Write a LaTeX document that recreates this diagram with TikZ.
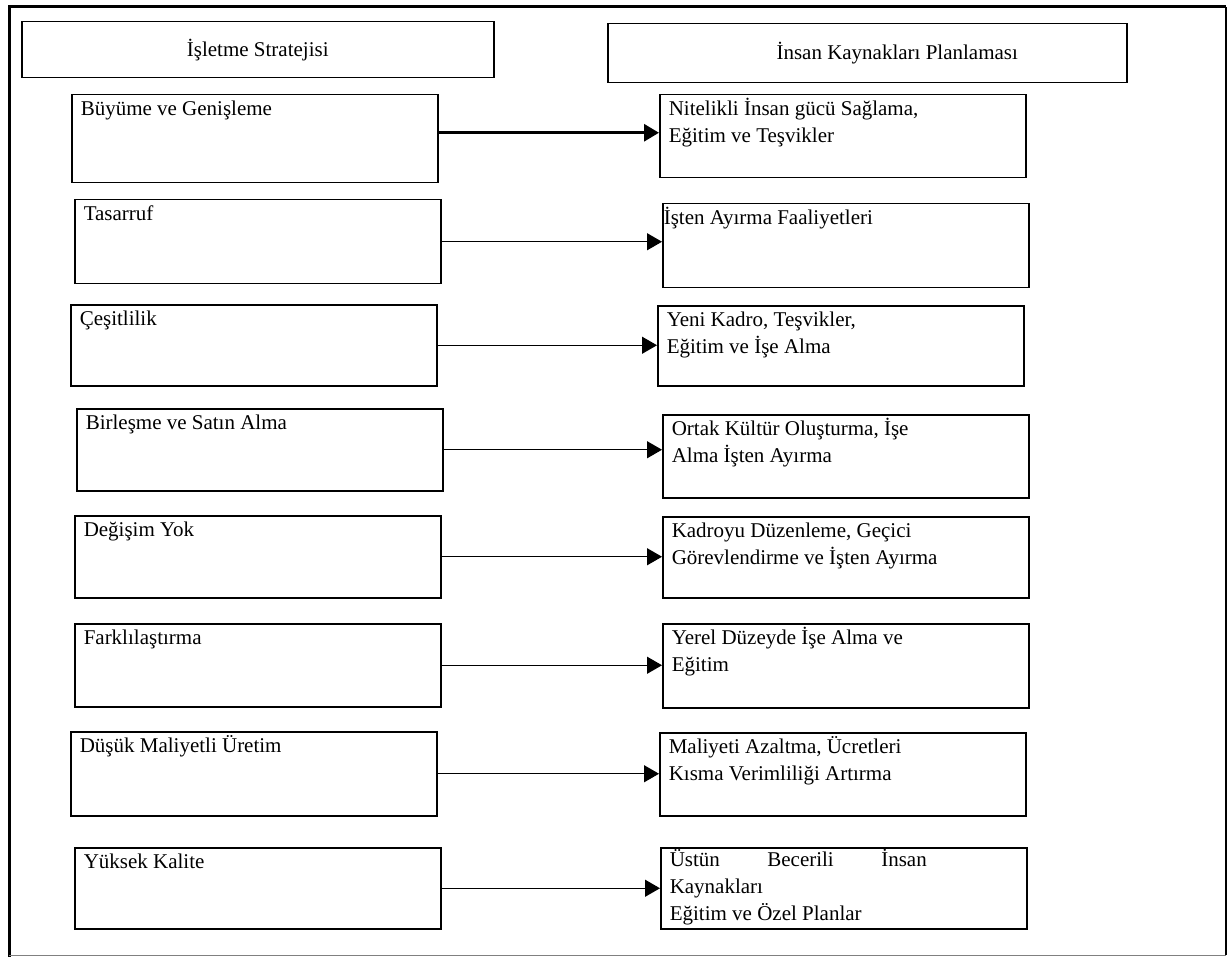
\documentclass[tikz,border=0pt]{standalone}
\usepackage{fontspec}
\setmainfont{Liberation Serif}
\usepackage{tikz}
\usetikzlibrary{arrows.meta}

\newcommand{\cellfont}{\fontsize{10.5}{13.5}\selectfont}
\newcommand{\celltext}[2][39.5pt]{\parbox[b][#1][t]{174pt}{\strut #2}}

\begin{document}
\begin{tikzpicture}[
    x=0.5pt, y=-0.5pt,
    hdr/.style={
        rectangle, draw, line width=0.75pt,
        anchor=north west, inner sep=0pt,
        align=center, font=\cellfont,
    },
    cell/.style={
        rectangle, draw, line width=0.75pt,
        anchor=north west, inner xsep=4.5pt, inner ysep=1pt,
        font=\cellfont,
    },
    arr/.style={-{Triangle[length=7.5pt,width=8.5pt]}, line width=0.6pt},
]
\useasboundingbox (0,0) rectangle (1231,957);

% Frame
\draw[line width=1.5pt] (9,957) -- (9,7) -- (1226,7);
\draw[line width=1pt] (1226,7) -- (1226,955);
\draw[gray, line width=0.5pt] (9,955) -- (1226,955);

% Headers
\node[hdr, minimum width=236pt, minimum height=28pt] (hs) at (21,21) {İşletme Stratejisi};
\node[hdr, minimum width=259.5pt, minimum height=29.5pt] (hk) at (607,23) {\hspace*{30pt}İnsan Kaynakları Planlaması};

% Strategies (left)
\node[cell] (s1) at (71,94) {\celltext[42pt]{Büyüme ve Genişleme}};
\node[cell] (s2) at (74,199) {\celltext[40pt]{Tasarruf}};
\node[cell] (s3) at (70,304) {\celltext[38.5pt]{Çeşitlilik}};
\node[cell] (s4) at (76,408) {\celltext[39pt]{Birleşme ve Satın Alma}};
\node[cell] (s5) at (74,515) {\celltext[39pt]{Değişim Yok}};
\node[cell] (s6) at (74,623) {\celltext[39.5pt]{Farklılaştırma}};
\node[cell] (s7) at (70,731) {\celltext[40pt]{Düşük Maliyetli Üretim}};
\node[cell] (s8) at (74,847) {\celltext[38.5pt]{Yüksek Kalite}};

% Planning (right)
\node[cell] (k1) at (659,94) {\celltext{Nitelikli İnsan gücü Sağlama,\\Eğitim ve Teşvikler}};
\node[cell] (k2) at (662,203) {\celltext[40pt]{\hspace*{-4pt}İşten Ayırma Faaliyetleri}};
\node[cell] (k3) at (657,305) {\celltext[38pt]{Yeni Kadro, Teşvikler,\\Eğitim ve İşe Alma}};
\node[cell] (k4) at (662,414) {\celltext{Ortak Kültür Oluşturma, İşe\\Alma İşten Ayırma}};
\node[cell] (k5) at (662,516) {\celltext[38.5pt]{Kadroyu Düzenleme, Geçici\\Görevlendirme ve İşten Ayırma}};
\node[cell] (k6) at (662,623) {\celltext[40pt]{Yerel Düzeyde İşe Alma ve\\Eğitim}};
\node[cell] (k7) at (659,732) {\celltext{Maliyeti Azaltma, Ücretleri\\Kısma Verimliliği Artırma}};
\node[cell, inner ysep=0pt] (k8) at (660,847) {\celltext[40.5pt]{\makebox[128.5pt][s]{Üstün\hfill Becerili\hfill İnsan}\\Kaynakları\\Eğitim ve Özel Planlar}};

% Arrows
\draw[arr, line width=1.5pt] ([yshift=3pt]s1.east) -- ([yshift=3pt]s1.east -| k1.west);
\draw[arr] (s2.east) -- (s2.east -| k2.west);
\draw[arr] (s3.east) -- (s3.east -| k3.west);
\draw[arr] (s4.east) -- (s4.east -| k4.west);
\draw[arr] (s5.east) -- (s5.east -| k5.west);
\draw[arr] (s6.east) -- (s6.east -| k6.west);
\draw[arr] (s7.east) -- (s7.east -| k7.west);
\draw[arr] (s8.east) -- (s8.east -| k8.west);

\end{tikzpicture}
\end{document}
